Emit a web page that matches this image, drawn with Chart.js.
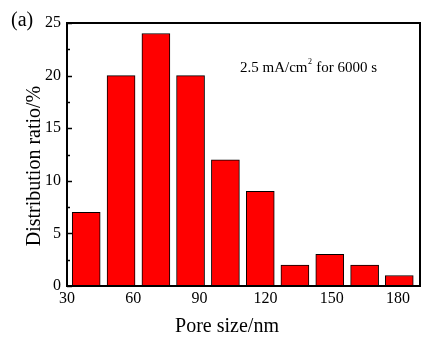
<!DOCTYPE html>
<html>
<head>
<meta charset="utf-8">
<script src="https://cdn.jsdelivr.net/npm/chart.js@4"></script>
<style>
    body { margin: 0; background: #fff; }
    #wrap { width: 441px; height: 340px; }
</style>
</head>
<body>
<div id="wrap"><canvas id="myChart"></canvas></div>
<script>
// pore size bin centres (nm) and share of pores (%)
let poreSizes = [38.7, 54.5, 70.3, 86, 101.8, 117.6, 133.3, 149.1, 164.9, 180.6];
let ratios = [7, 20, 24, 20, 12, 9, 2, 3, 2, 1];

let xTicks = [30, 60, 90, 120, 150, 180];
let yTicks = [0, 5, 10, 15, 20, 25];
let yMinorTicks = [2.5, 7.5, 12.5, 17.5, 22.5];

const serif = '"Liberation Serif", "Times New Roman", serif';

// frame, inward ticks and the free text
const framePlugin = {
    id: 'framePlugin',
    afterDraw(chart) {
        let ctx = chart.ctx;
        let area = chart.chartArea;
        let y = chart.scales.y;

        ctx.save();
        ctx.strokeStyle = '#000';
        ctx.lineWidth = 1.5;
        yTicks.forEach(v => {
            let py = Math.round(y.getPixelForValue(v)) + 0.5;
            ctx.beginPath();
            ctx.moveTo(area.left, py);
            ctx.lineTo(area.left + 5, py);
            ctx.stroke();
        });
        yMinorTicks.forEach(v => {
            let py = Math.round(y.getPixelForValue(v)) + 0.5;
            ctx.beginPath();
            ctx.moveTo(area.left, py);
            ctx.lineTo(area.left + 3, py);
            ctx.stroke();
        });

        ctx.lineWidth = 2;
        ctx.strokeRect(area.left, area.top, area.right - area.left, area.bottom - area.top);

        ctx.fillStyle = '#000';
        ctx.textBaseline = 'alphabetic';

        ctx.font = '20px ' + serif;
        ctx.textAlign = 'left';
        ctx.fillText('(a)', 11, 26);

        // axis titles
        ctx.textAlign = 'center';
        ctx.fillText('Pore size/nm', 227, 332);
        ctx.save();
        ctx.translate(40, 166);
        ctx.rotate(-Math.PI / 2);
        ctx.fillText('Distribution ratio/%', 0, 0);
        ctx.restore();

        // annotation with superscript
        ctx.textAlign = 'left';
        ctx.font = '15px ' + serif;
        let tx = 240, ty = 72;
        let part1 = '2.5 mA/cm';
        ctx.fillText(part1, tx, ty);
        tx += ctx.measureText(part1).width;
        ctx.font = '8px ' + serif;
        ctx.fillText('2', tx + 0.5, ty - 8);
        tx += ctx.measureText('2').width + 1;
        ctx.font = '15px ' + serif;
        ctx.fillText(' for 6000 s', tx, ty);

        ctx.restore();
    }
};

let chart = new Chart(document.getElementById('myChart'), {
    type: 'bar',
    data: {
        datasets: [{
            data: poreSizes.map((x, i) => ({ x: x, y: ratios[i] })),
            backgroundColor: '#ff0000',
            borderColor: '#000',
            borderWidth: 1,
            barThickness: 28
        }]
    },
    options: {
        responsive: true,
        maintainAspectRatio: false,
        animation: false,
        layout: { padding: { top: 23, right: 21, left: 0, bottom: 0 } },
        plugins: {
            legend: { display: false },
            tooltip: { enabled: false }
        },
        scales: {
            x: {
                type: 'linear',
                min: 30,
                max: 190,
                offset: false,
                grid: { display: false, drawTicks: false, offset: false },
                border: { display: false },
                afterBuildTicks: scale => { scale.ticks = xTicks.map(v => ({ value: v })); },
                afterFit: scale => { scale.height = 54; },
                ticks: {
                    autoSkip: false,
                    maxRotation: 0,
                    padding: 3,
                    color: '#000',
                    font: { family: serif, size: 16 }
                }
            },
            y: {
                min: 0,
                max: 25,
                grid: { display: false, drawTicks: false },
                border: { display: false },
                afterBuildTicks: scale => { scale.ticks = yTicks.map(v => ({ value: v })); },
                afterFit: scale => { scale.width = 67; },
                ticks: {
                    padding: 6,
                    color: '#000',
                    font: { family: serif, size: 16 }
                }
            }
        }
    },
    plugins: [framePlugin]
});
</script>
</body>
</html>
